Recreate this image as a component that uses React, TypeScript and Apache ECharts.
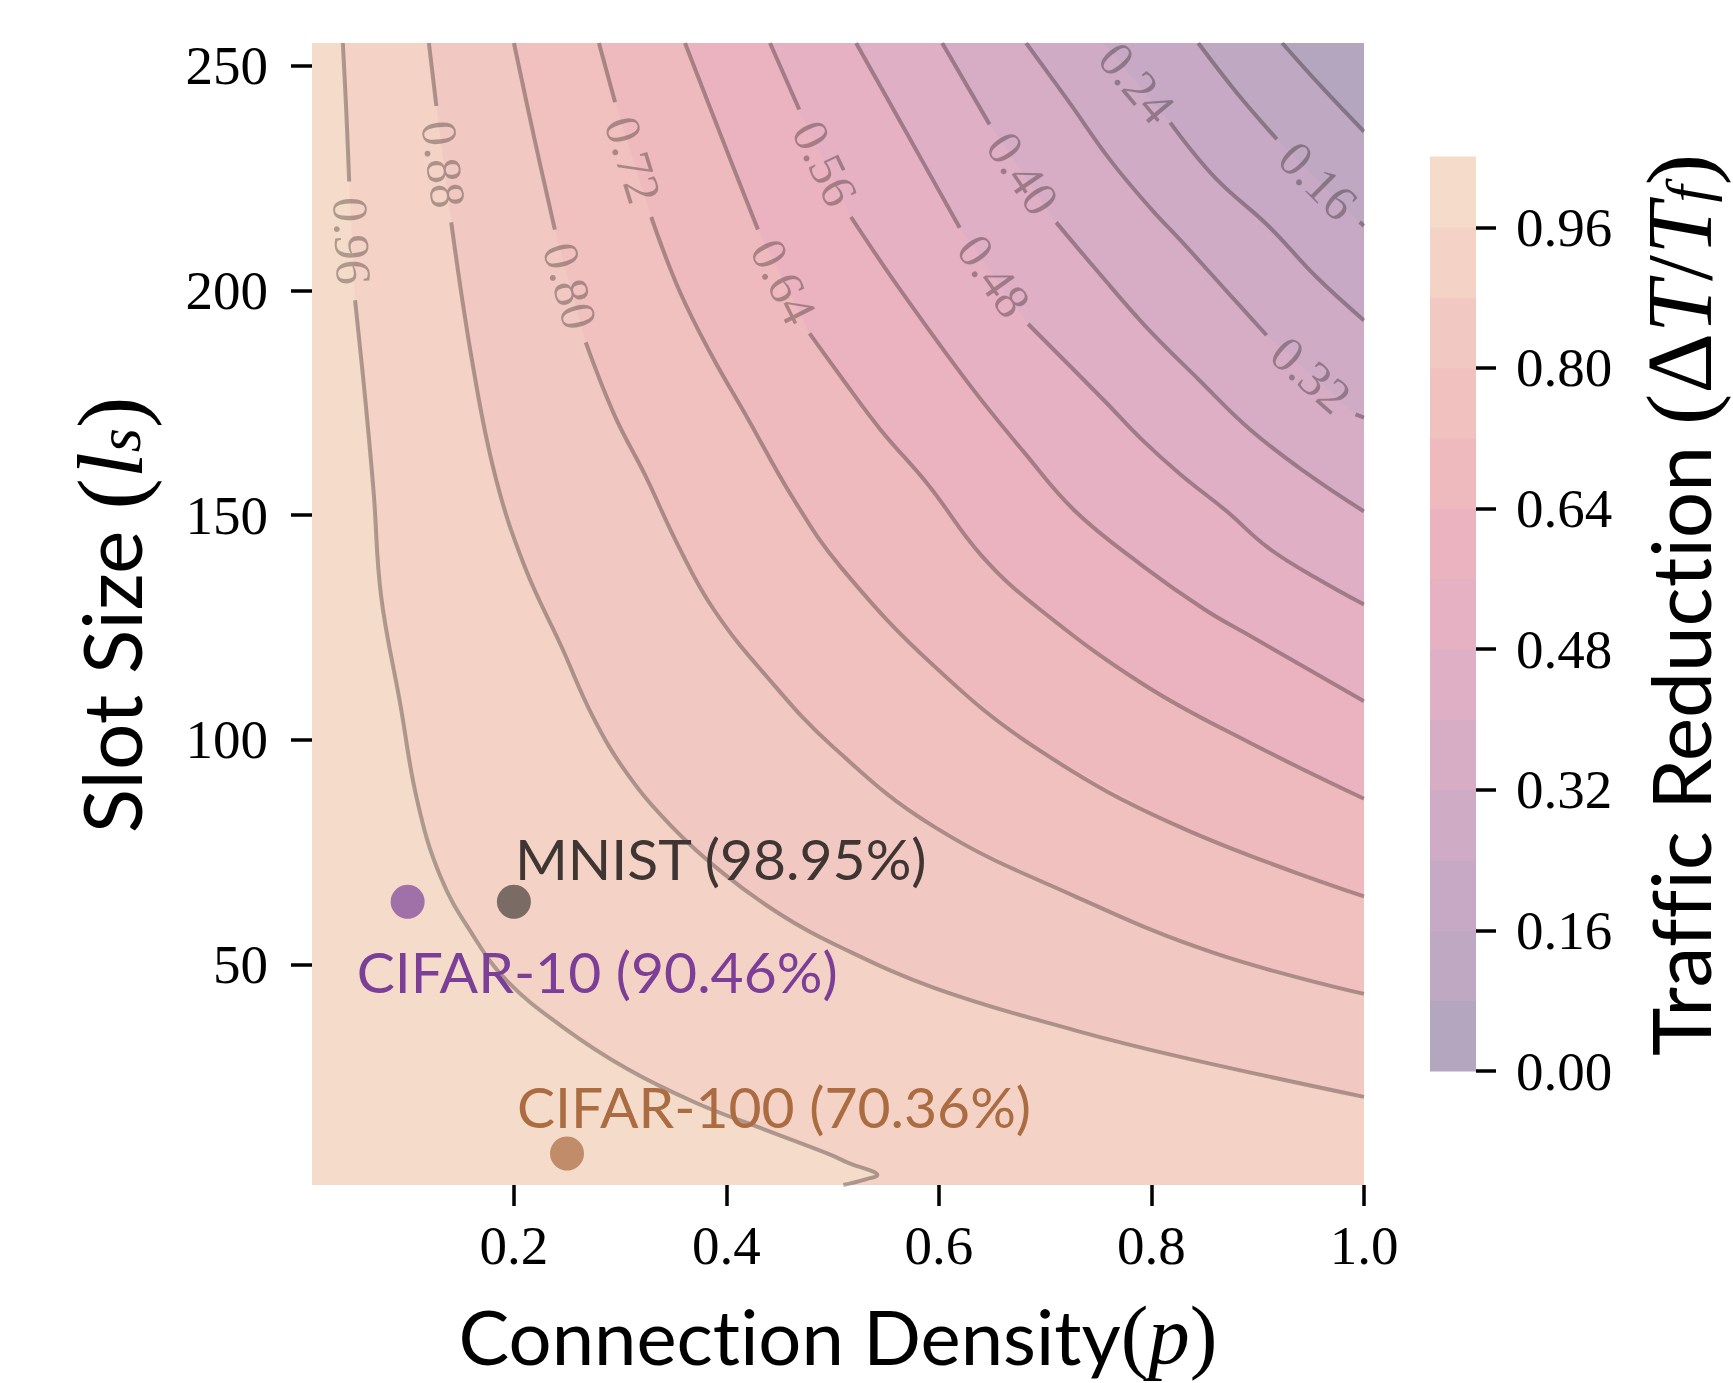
import React, { useEffect, useRef } from 'react';
import * as echarts from 'echarts';

// ---------- data ----------
const X_MIN = 0.01;
const X_MAX = 1.0;
const Y_MIN = 1;
const Y_MAX = 255;

const xTicks = [0.2, 0.4, 0.6, 0.8, 1.0];
const yTicks = [50, 100, 150, 200, 250];
const cbTicks = [0, 0.16, 0.32, 0.48, 0.64, 0.8, 0.96];

const bandEdges = [0, 0.08, 0.16, 0.24, 0.32, 0.4, 0.48, 0.56, 0.64, 0.72, 0.8, 0.88, 0.96, 1.04];
const bandColors = [
  '#b5a6c0', '#bea8c2', '#c7a9c5', '#cfabc6', '#d7adc6', '#dfafc5', '#e6b1c3',
  '#ebb3bf', '#eebabe', '#f0c1bf', '#f2c9c2', '#f4d2c5', '#f5dbca',
];

type Pt = [number, number] | null;

// contour lines: [p, l]; null marks the gap under the inline label
const c096: Pt[] = [
  [0.039, 255], [0.042, 241], [0.045, 224.2], null, [0.0505, 197.8], [0.06, 176], [0.068, 155],
  [0.075, 132], [0.093, 108], [0.109, 86.5], [0.131, 69.5], [0.161, 56.7], [0.193, 46.5],
  [0.245, 36.3], [0.306, 26.9], [0.371, 19.3], [0.436, 13.3], [0.497, 7.8], [0.517, 5.7],
  [0.537, 4.1], [0.542, 3.3], [0.53, 2.2], [0.51, 1.0],
];
const c088: Pt[] = [
  [0.12, 255], [0.127, 241], null, [0.141, 215.1], [0.161, 183.8], [0.182, 159.1], [0.21, 138.6],
  [0.245, 120.6], [0.274, 105.3], [0.3065, 92.5], [0.349, 80.6], [0.397, 70.3], [0.452, 61.0],
  [0.502, 54.5], [0.596, 44.8], [0.728, 35.4], [0.827, 29.5], [1.0, 20.6],
];
const c080: Pt[] = [
  [0.2, 255], [0.219, 234], [0.2385, 213.5], null, [0.2676, 188.4], [0.295, 172], [0.323, 159.1],
  [0.355, 143], [0.388, 129], [0.436, 114.6], [0.5, 98.5], [0.596, 80.6], [0.728, 65.2],
  [0.86, 52.5], [1.0, 43.5],
];
const c072: Pt[] = [
  [0.28, 255], [0.2952, 241.8], null, [0.3292, 216.3], [0.355, 200.3], [0.385, 186], [0.42, 171.5],
  [0.462, 154], [0.507, 138.6], [0.596, 116.3], [0.695, 97.6], [0.827, 80.6], [1.0, 65.2],
];
const c064: Pt[] = [
  [0.361, 255], [0.394, 234.9], [0.4296, 213.5], null, [0.4782, 190.4], [0.507, 181], [0.545, 169],
  [0.59, 156.7], [0.64, 141], [0.695, 129], [0.794, 112.1], [0.893, 99.3], [1.0, 86.9],
];
const c056: Pt[] = [
  [0.441, 255], [0.4685, 240.2], null, [0.5172, 216.3], [0.563, 200.3], [0.629, 178.9], [0.68, 164],
  [0.728, 150.9], [0.79, 139], [0.85, 129], [0.893, 123.1], [1.0, 108.6],
];
const c048: Pt[] = [
  [0.522, 255], [0.57, 234.8], [0.6195, 213.9], null, [0.6839, 192.5], [0.755, 175.6], [0.79, 167],
  [0.827, 159.1], [0.87, 151], [0.91, 142.7], [0.955, 136], [1.0, 130.1],
];
const c040: Pt[] = [
  [0.603, 255], [0.6476, 236.9], null, [0.7103, 215.1], [0.75, 204], [0.794, 192.1], [0.845, 180],
  [0.893, 169], [0.945, 159.5], [1.0, 150.8],
];
const c032: Pt[] = [
  [0.682, 255], [0.722, 242], [0.761, 229], [0.8, 218], [0.827, 211.2], [0.87, 200], [0.9083, 190.0],
  null, [0.992, 172.4], [1.0, 171.7],
];
const c024: Pt[] = [
  [0.755, 255], null, [0.8176, 237.3], [0.86, 225], [0.91, 214.3], [0.955, 203], [1.0, 193.3],
];
const c016: Pt[] = [
  [0.844, 255], [0.88, 244], [0.918, 233.6], null, [0.996, 215.2], [1.0, 214.3],
];
const c008: Pt[] = [
  [0.923, 255], [0.959, 245.5], [1.0, 235.3],
];

const contourLevels = [0.96, 0.88, 0.8, 0.72, 0.64, 0.56, 0.48, 0.4, 0.32, 0.24, 0.16, 0.08];
const contourPaths = [c096, c088, c080, c072, c064, c056, c048, c040, c032, c024, c016, c008];

const datasetNames = ['MNIST (98.95%)', 'CIFAR-10 (90.46%)', 'CIFAR-100 (70.36%)'];
const datasetP = [0.2, 0.1, 0.25];
const datasetL = [64, 64, 8];

// ---------- styles ----------
const dotColors = ['#7a6b64', '#a070a8', '#c08c6a'];
const textColors = ['#3f3633', '#7b3f98', '#ab6c42'];
const labelOffsets: [number, number][] = [[18, -27], [-34, 86], [-33, -31]];
const LINE_COLOR = 'rgba(10,0,0,0.3)';
const SERIF = "'Liberation Serif', serif";
const SANS = "Lato, 'Open Sans', sans-serif";

function makeRich(sans: number, math: number, sub: number) {
  return {
    a: { fontFamily: SANS, fontSize: sans, fill: '#000', lineHeight: 80 },
    m: { fontFamily: SERIF, fontSize: math, fill: '#000', lineHeight: 80 },
    i: { fontFamily: SERIF, fontStyle: 'italic', fontSize: math, fill: '#000', lineHeight: 80 },
    s: { fontFamily: SERIF, fontStyle: 'italic', fontSize: sub, fill: '#000', lineHeight: 30, verticalAlign: 'bottom' },
  };
}
const richX = makeRich(76, 83, 56);
const richRot = makeRich(82, 94, 62);

function bandColorForLevel(c: number) {
  return bandColors[Math.round(c / 0.08) - 1];
}

export default function App() {
  const ref = useRef<HTMLDivElement>(null);

  useEffect(() => {
    if (!ref.current) return;
    const chart = echarts.init(ref.current, undefined, { renderer: 'svg' });

    const fillSeries = {
      type: 'custom',
      xAxisIndex: 0,
      yAxisIndex: 0,
      silent: true,
      clip: true,
      z: 1,
      data: contourLevels.map((c, i) => [X_MAX, Y_MAX, i]),
      renderItem: (params: any, api: any) => {
        const i = params.dataIndex;
        const pts = contourPaths[i].filter((p) => p !== null) as [number, number][];
        const poly = pts.map((p) => api.coord(p));
        const last = pts[pts.length - 1];
        if (last[1] <= Y_MIN + 0.5) poly.push(api.coord([X_MAX, Y_MIN]));
        poly.push(api.coord([X_MAX, Y_MAX]));
        return {
          type: 'polygon',
          shape: { points: poly },
          style: { fill: bandColorForLevel(contourLevels[i]), stroke: null },
        };
      },
    };

    const lineSeries = contourLevels.map((c, i) => ({
      type: 'line',
      xAxisIndex: 0,
      yAxisIndex: 0,
      name: 'level ' + c.toFixed(2),
      data: contourPaths[i].map((p) => (p === null ? ['-', '-'] : p)),
      showSymbol: false,
      symbol: 'none',
      smooth: 0.4,
      connectNulls: false,
      silent: true,
      z: 2,
      lineStyle: { color: LINE_COLOR, width: 4 },
    }));

    const labeled = contourLevels.map((c, i) => i).filter((i) => contourPaths[i].indexOf(null) >= 0);

    const labelSeries = {
      type: 'custom',
      xAxisIndex: 0,
      yAxisIndex: 0,
      silent: true,
      clip: true,
      z: 3,
      data: labeled.map((i) => [X_MAX, Y_MAX, i]),
      renderItem: (params: any, api: any) => {
        const i = labeled[params.dataIndex];
        const path = contourPaths[i];
        const g = path.indexOf(null);
        const a = api.coord(path[g - 1]);
        const b = api.coord(path[g + 1]);
        let ang = Math.atan2(a[1] - b[1], b[0] - a[0]);
        if (ang > Math.PI / 2) ang -= Math.PI;
        if (ang < -Math.PI / 2) ang += Math.PI;
        return {
          type: 'text',
          x: (a[0] + b[0]) / 2,
          y: (a[1] + b[1]) / 2,
          rotation: ang,
          style: {
            text: contourLevels[i].toFixed(2),
            fill: LINE_COLOR,
            fontSize: 50,
            fontFamily: SERIF,
            align: 'center',
            verticalAlign: 'middle',
            textAlign: 'center',
            textVerticalAlign: 'middle',
          },
        };
      },
    };

    const scatterSeries = {
      type: 'scatter',
      xAxisIndex: 0,
      yAxisIndex: 0,
      symbolSize: 34,
      z: 5,
      silent: true,
      data: datasetNames.map((n, i) => ({
        value: [datasetP[i], datasetL[i]],
        itemStyle: { color: dotColors[i], opacity: 1 },
        label: {
          show: true,
          formatter: n,
          position: labelOffsets[i],
          align: 'left',
          verticalAlign: 'middle',
          color: textColors[i],
          fontFamily: SANS,
          fontSize: 57,
        },
      })),
    };

    const cbSeries = {
      type: 'custom',
      xAxisIndex: 1,
      yAxisIndex: 1,
      silent: true,
      z: 1,
      data: bandColors.map((c, i) => [0.5, (bandEdges[i] + bandEdges[i + 1]) / 2]),
      renderItem: (params: any, api: any) => {
        const i = params.dataIndex;
        const p0 = api.coord([0, bandEdges[i + 1]]);
        const p1 = api.coord([1, bandEdges[i]]);
        return {
          type: 'rect',
          shape: { x: p0[0], y: p0[1] - 0.5, width: p1[0] - p0[0], height: p1[1] - p0[1] + 1 },
          style: { fill: bandColors[i], stroke: null },
        };
      },
    };

    const tickLabel = { fontFamily: SERIF, fontSize: 55, color: '#000' };

    chart.setOption({
      animation: false,
      backgroundColor: '#ffffff',
      grid: [
        { left: 312, top: 43, width: 1052, height: 1142, show: true, backgroundColor: bandColors[12], borderWidth: 0 },
        { left: 1430, top: 157, width: 46, height: 914 },
      ],
      xAxis: [
        {
          type: 'value', gridIndex: 0, min: X_MIN, max: X_MAX,
          axisLine: { show: false, onZero: false },
          splitLine: { show: false },
          axisTick: { show: true, length: 21, lineStyle: { color: '#000', width: 3.5 }, customValues: xTicks },
          axisLabel: { ...tickLabel, margin: 33, customValues: xTicks, formatter: (v: number) => v.toFixed(1) },
        },
        {
          type: 'value', gridIndex: 1, min: 0, max: 1, show: false,
          axisLine: { show: false, onZero: false }, axisTick: { show: false }, axisLabel: { show: false }, splitLine: { show: false },
        },
      ],
      yAxis: [
        {
          type: 'value', gridIndex: 0, min: Y_MIN, max: Y_MAX,
          axisLine: { show: false, onZero: false },
          splitLine: { show: false },
          axisTick: { show: true, length: 21, lineStyle: { color: '#000', width: 3.5 }, customValues: yTicks },
          axisLabel: { ...tickLabel, margin: 44, customValues: yTicks, formatter: (v: number) => String(Math.round(v)) },
        },
        {
          type: 'value', gridIndex: 1, min: 0, max: 1.04, position: 'right',
          axisLine: { show: false, onZero: false },
          splitLine: { show: false },
          axisTick: { show: true, inside: false, length: 20, lineStyle: { color: '#000', width: 3.5 }, customValues: cbTicks },
          axisLabel: { ...tickLabel, margin: 40, customValues: cbTicks, formatter: (v: number) => v.toFixed(2) },
        },
      ],
      graphic: [
        {
          type: 'text', x: 110, y: 615, rotation: Math.PI / 2,
          style: { text: '{a|Slot Size }{m|(}{i|l}{s|s}{m|)}', rich: richRot, align: 'center', verticalAlign: 'middle' },
        },
        {
          type: 'text', x: 838, y: 1335,
          style: { text: '{a|Connect}{a|ion Density}{m|(}{i|p}{m|)}', rich: richX, align: 'center', verticalAlign: 'middle' },
        },
        {
          type: 'text', x: 1679, y: 605, rotation: Math.PI / 2,
          style: {
            text: '{a|Traf}{a|f}{a|ic Reduct}{a|ion }{m|(Δ}{i|T}{m|/}{i|T}{s|f}{m|)}',
            rich: richRot, align: 'center', verticalAlign: 'middle',
          },
        },
      ],
      series: [fillSeries, ...lineSeries, labelSeries, scatterSeries, cbSeries],
    });

    return () => chart.dispose();
  }, []);

  return (
    <div
      ref={ref}
      style={{ position: 'fixed', left: 0, top: 0, width: 1733, height: 1383, background: '#fff' }}
    />
  );
}
